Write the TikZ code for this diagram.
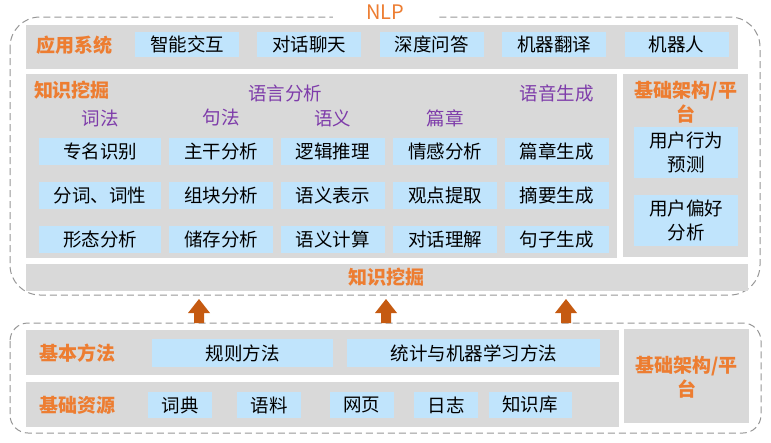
\documentclass[tikz,border=0pt]{standalone}
\usepackage{fontspec}
\setmainfont{Noto Sans CJK SC}
\usetikzlibrary{positioning}

\definecolor{panelgray}{RGB}{217,217,217}
\definecolor{itemblue}{RGB}{192,228,252}
\definecolor{headorange}{RGB}{237,125,49}
\definecolor{headpurple}{RGB}{126,60,170}
\definecolor{arrowbrown}{RGB}{197,90,17}
\definecolor{framegray}{RGB}{150,150,150}

\tikzset{
  item/.style={fill=itemblue, inner sep=0pt, minimum width=104pt, minimum height=25pt, font=\fontsize{18.5}{24}\selectfont},
  cell/.style={item, minimum height=27pt},
  layer/.style={inner sep=0pt, text=headorange, font=\bfseries\fontsize{19}{24}\selectfont},
  topic/.style={inner sep=0pt, text=headpurple, font=\fontsize{18.5}{24}\selectfont},
  frame/.style={draw=framegray, line width=1pt, dash pattern=on 7pt off 4pt},
}

\begin{document}
\begin{tikzpicture}[x=1pt, y=-1pt]
\useasboundingbox (0,0) rectangle (771,442);

% Frames

\draw[frame, rounded corners=30pt] (10,17) rectangle (760,295);
\draw[frame, rounded corners=18pt] (10,323) rectangle (761,433);
\node[fill=white, minimum width=105pt, minimum height=23pt, inner sep=0pt, text=headorange, font=\fontsize{20}{22}\selectfont] (nlp) at (385.5,12) {NLP};

% Panels

\fill[panelgray] (26,25) rectangle (738,69);
\fill[panelgray] (26,74) rectangle (617,258);
\fill[panelgray] (623,74) rectangle (748,257);
\fill[panelgray] (26,264) rectangle (748,291);
\fill[panelgray] (26,330) rectangle (619,375);
\fill[panelgray] (26,382) rectangle (619,427);
\fill[panelgray] (624,329) rectangle (749,423);

% Applications

\node[layer] (app) at (74.5,45) {应用系统};
\node[item] (chat) at (187,44.5) {智能交互};
\node[item, right=18pt of chat] (dialog) {对话聊天};
\node[item, right=18pt of dialog] (qa) {深度问答};
\node[item, right=18pt of qa] (mt) {机器翻译};
\node[item, right=18pt of mt] (robot) {机器人};

% Knowledge mining

\node[layer] (mine) at (72,90) {知识挖掘};
\node[topic] (analysis) at (285,93) {语言分析};

\node[cell, minimum width=122pt] (ner) at (100,151.5) {专名识别};
\node[cell, right=8pt of ner] (trunk) {主干分析};
\node[cell, right=7pt of trunk] (logic) {逻辑推理};
\node[cell, right=8pt of logic] (senti) {情感分析};
\node[cell, right=7pt of senti] (docgen) {篇章生成};

\node[cell, minimum width=122pt, below=17pt of ner] (seg) {分词、词性};
\node[cell, below=17pt of trunk] (chunk) {组块分析};
\node[cell, below=17pt of logic] (semrep) {语义表示};
\node[cell, below=17pt of senti] (opinion) {观点提取};
\node[cell, below=17pt of docgen] (summ) {摘要生成};

\node[cell, minimum width=122pt, below=16pt of seg] (morph) {形态分析};
\node[cell, below=16pt of chunk] (store) {储存分析};
\node[cell, below=16pt of semrep] (semcalc) {语义计算};
\node[cell, below=16pt of opinion] (dialogu) {对话理解};
\node[cell, below=16pt of summ] (sentgen) {句子生成};

\node[topic] (lexical) at (ner |- 0,118) {词法};
\node[topic] (syntax) at (trunk |- 0,118) {句法};
\node[topic] (semantic) at (logic |- 0,118) {语义};
\node[topic] (discourse) at (senti |- 0,118) {篇章};
\node[topic] (generate) at (docgen |- 0,93) {语音生成};

\node[layer] (minebar) at (386,277) {知识挖掘};

% Platform (top)

\node[layer, align=center] (platform) at (686,102.5) {基础架构/平\\台};
\node[item, minimum height=51pt, align=center] (behave) at (686,152.5) {用户行为\\预测};
\node[item, minimum height=51pt, align=center, below=17pt of behave] (prefer) {用户偏好\\分析};

% Arrows

\foreach \x in {199,386,566}
  \fill[arrowbrown] (\x-5,323) -- (\x-5,313) -- (\x-11,313) -- (\x,299)
    -- (\x+11,313) -- (\x+5,313) -- (\x+5,323) -- cycle;

% Methods and resources

\node[layer] (method) at (77.5,353) {基本方法};
\node[item, minimum width=181pt, minimum height=28pt] (rule) at (242.5,353) {规则方法};
\node[item, minimum width=253pt, minimum height=28pt, right=14pt of rule] (stat) {统计与机器学习方法};

\node[layer] (resource) at (77.5,405) {基础资源};
\node[item, minimum width=64pt, minimum height=26pt] (dict) at (180,405) {词典};
\node[item, minimum width=64pt, minimum height=26pt, right=25pt of dict] (corpus) {语料};
\node[item, minimum width=64pt, minimum height=26pt, right=28pt of corpus] (web) {网页};
\node[item, minimum width=64pt, minimum height=26pt, right=20pt of web] (log) {日志};
\node[item, minimum width=83pt, minimum height=26pt, right=10pt of log] (kb) {知识库};

\node[layer, align=center] (platformb) at (686.5,377) {基础架构/平\\台};

\end{tikzpicture}
\end{document}
